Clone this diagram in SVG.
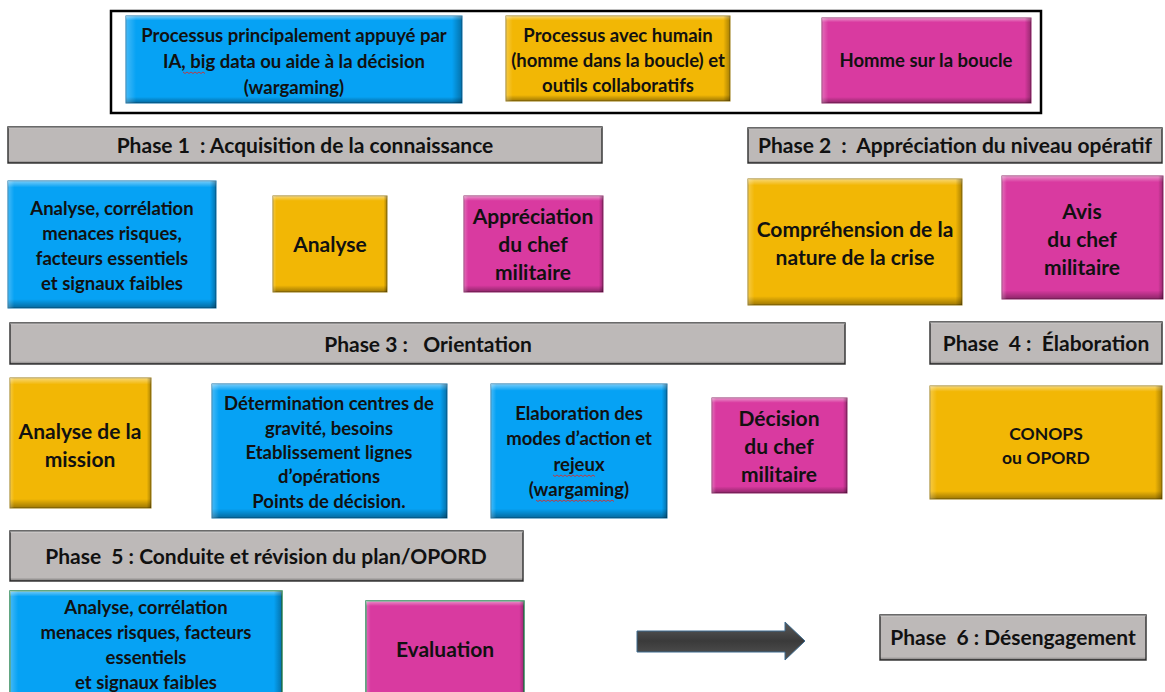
<svg xmlns="http://www.w3.org/2000/svg" width="1165" height="692" viewBox="0 0 1165 692" xml:space="preserve">
  <defs>
    <!-- bevel shading laid over every box -->
    <linearGradient id="bevelV" x1="0" y1="0" x2="0" y2="1">
      <stop offset="0" stop-color="#fff" stop-opacity="0.45"/>
      <stop offset="0.05" stop-color="#fff" stop-opacity="0"/>
      <stop offset="0.93" stop-color="#000" stop-opacity="0"/>
      <stop offset="1" stop-color="#000" stop-opacity="0.35"/>
    </linearGradient>
    <linearGradient id="bevelH" x1="0" y1="0" x2="1" y2="0">
      <stop offset="0" stop-color="#fff" stop-opacity="0.25"/>
      <stop offset="0.03" stop-color="#fff" stop-opacity="0"/>
      <stop offset="0.97" stop-color="#000" stop-opacity="0"/>
      <stop offset="1" stop-color="#000" stop-opacity="0.3"/>
    </linearGradient>
    <linearGradient id="arrowFill" x1="0" y1="0" x2="0" y2="1">
      <stop offset="0" stop-color="#5a5a5a"/>
      <stop offset="0.5" stop-color="#3a3a3a"/>
      <stop offset="1" stop-color="#555"/>
    </linearGradient>
    <style>
      .blue { fill: #06A2F4; stroke: #0a6fa8; stroke-width: 1; }
      .yellow { fill: #F2B705; stroke: #9a7a10; stroke-width: 1; }
      .pink { fill: #D93AA0; stroke: #8f2468; stroke-width: 1; }
      .green-edge { stroke: #2f8a5a; stroke-width: 1.5; }
      .bar { fill: #BDB9B8; stroke: #3a3a3a; stroke-width: 1.5; }
      .bv { fill: url(#bevelV); }
      .bh { fill: url(#bevelH); }
      text { font-family: "Lato", "Liberation Sans", sans-serif; font-weight: bold; fill: #111; text-anchor: middle; white-space: pre; }
      .t16 { font-size: 18.5px; }
      .t17 { font-size: 17.5px; }
      .t19 { font-size: 21px; }
      .bt { font-size: 21px; }
      .squig { fill: none; stroke: #d03030; stroke-width: 0.9; }
    </style>
  </defs>

  <rect width="1165" height="692" fill="#fff"/>

  <!-- legend -->
  <g id="legend">
    <rect x="111" y="11" width="930" height="102" fill="#fff" stroke="#000" stroke-width="2.5"/>
    <g id="legend-ai">
      <rect class="blue" x="126" y="16" width="336" height="87"/>
      <rect class="bv" x="126" y="16" width="336" height="87"/><rect class="bh" x="126" y="16" width="336" height="87"/>
      <text class="t16" x="294" y="42">Processus principalement appuyé par</text>
      <text class="t16" x="294" y="68">IA, big data ou aide à la décision</text>
      <text class="t16" x="294" y="94">(wargaming)</text>
      <path class="squig" d="M183 72 l2 1.5 l2 -1.5 l2 1.5 l2 -1.5 l2 1.5 l2 -1.5 l2 1.5 l2 -1.5 l2 1.5 l2 -1.5 l2 1.5"/>
    </g>
    <g id="legend-human-in">
      <rect class="yellow" x="506" y="16" width="224" height="85"/>
      <rect class="bv" x="506" y="16" width="224" height="85"/><rect class="bh" x="506" y="16" width="224" height="85"/>
      <text class="t16" x="618" y="42">Processus avec humain</text>
      <text class="t16" x="618" y="67">(homme dans la boucle) et</text>
      <text class="t16" x="618" y="92">outils collaboratifs</text>
    </g>
    <g id="legend-human-on">
      <rect class="pink" x="822" y="18" width="209" height="85"/>
      <rect class="bv" x="822" y="18" width="209" height="85"/><rect class="bh" x="822" y="18" width="209" height="85"/>
      <text class="t16" x="926" y="67">Homme sur la boucle</text>
    </g>
  </g>

  <!-- phase 1 -->
  <g id="phase1">
    <rect class="bar" x="8" y="127" width="594" height="36"/>
    <rect class="bv" x="8" y="127" width="594" height="36"/>
    <text class="bt" x="305" y="153">Phase 1  : Acquisition de la connaissance</text>
  </g>
  <g id="p1-analyse-correlation">
    <rect class="blue" x="8" y="181" width="208" height="127"/>
    <rect class="bv" x="8" y="181" width="208" height="127"/><rect class="bh" x="8" y="181" width="208" height="127"/>
    <text class="t16" x="112" y="215">Analyse, corrélation</text>
    <text class="t16" x="112" y="240">menaces risques,</text>
    <text class="t16" x="112" y="265">facteurs essentiels</text>
    <text class="t16" x="112" y="290">et signaux faibles</text>
  </g>
  <g id="p1-analyse">
    <rect class="yellow" x="273" y="196" width="114" height="96"/>
    <rect class="bv" x="273" y="196" width="114" height="96"/><rect class="bh" x="273" y="196" width="114" height="96"/>
    <text class="t19" x="330" y="252">Analyse</text>
  </g>
  <g id="p1-appreciation">
    <rect class="pink" x="464" y="196" width="139" height="96"/>
    <rect class="bv" x="464" y="196" width="139" height="96"/><rect class="bh" x="464" y="196" width="139" height="96"/>
    <text class="t19" x="533" y="224">Appréciation</text>
    <text class="t19" x="533" y="252">du chef</text>
    <text class="t19" x="533" y="280">militaire</text>
  </g>

  <!-- phase 2 -->
  <g id="phase2">
    <rect class="bar" x="748" y="128" width="414" height="35"/>
    <rect class="bv" x="748" y="128" width="414" height="35"/>
    <text class="bt" x="955" y="153">Phase 2  :  Appréciation du niveau opératif</text>
  </g>
  <g id="p2-comprehension">
    <rect class="yellow" x="748" y="179" width="214" height="126"/>
    <rect class="bv" x="748" y="179" width="214" height="126"/><rect class="bh" x="748" y="179" width="214" height="126"/>
    <text class="t19" x="855" y="237">Compréhension de la</text>
    <text class="t19" x="855" y="265">nature de la crise</text>
  </g>
  <g id="p2-avis">
    <rect class="pink" x="1002" y="176" width="161" height="123"/>
    <rect class="bv" x="1002" y="176" width="161" height="123"/><rect class="bh" x="1002" y="176" width="161" height="123"/>
    <text class="t19" x="1082" y="219">Avis</text>
    <text class="t19" x="1082" y="247">du chef</text>
    <text class="t19" x="1082" y="275">militaire</text>
  </g>

  <!-- phase 3 -->
  <g id="phase3">
    <rect class="bar" x="10" y="323" width="835" height="41"/>
    <rect class="bv" x="10" y="323" width="835" height="41"/>
    <text class="bt" x="428" y="352">Phase 3 :   Orientation</text>
  </g>
  <g id="p3-mission">
    <rect class="yellow" x="10" y="378" width="141" height="130"/>
    <rect class="bv" x="10" y="378" width="141" height="130"/><rect class="bh" x="10" y="378" width="141" height="130"/>
    <text class="t19" x="80" y="439">Analyse de la</text>
    <text class="t19" x="80" y="467">mission</text>
  </g>
  <g id="p3-determination">
    <rect class="blue" x="212" y="384" width="235" height="134"/>
    <rect class="bv" x="212" y="384" width="235" height="134"/><rect class="bh" x="212" y="384" width="235" height="134"/>
    <text class="t16" x="329" y="410">Détermination centres de</text>
    <text class="t16" x="329" y="435">gravité, besoins</text>
    <text class="t16" x="329" y="459">Etablissement lignes</text>
    <text class="t16" x="329" y="483">d’opérations</text>
    <text class="t16" x="329" y="508">Points de décision.</text>
  </g>
  <g id="p3-elaboration">
    <rect class="blue" x="491" y="384" width="176" height="134"/>
    <rect class="bv" x="491" y="384" width="176" height="134"/><rect class="bh" x="491" y="384" width="176" height="134"/>
    <text class="t16" x="579" y="420">Elaboration des</text>
    <text class="t16" x="579" y="445">modes d’action et</text>
    <text class="t16" x="579" y="471">rejeux</text>
    <text class="t16" x="579" y="496">(wargaming)</text>
    <path class="squig" d="M553 475 l2 1.5 l2 -1.5 l2 1.5 l2 -1.5 l2 1.5 l2 -1.5 l2 1.5 l2 -1.5 l2 1.5 l2 -1.5 l2 1.5 l2 -1.5 l2 1.5 l2 -1.5 l2 1.5 l2 -1.5 l2 1.5 l2 -1.5 l2 1.5 l2 -1.5 l2 1.5"/>
    <path class="squig" d="M536 500 l2 1.5 l2 -1.5 l2 1.5 l2 -1.5 l2 1.5 l2 -1.5 l2 1.5 l2 -1.5 l2 1.5 l2 -1.5 l2 1.5 l2 -1.5 l2 1.5 l2 -1.5 l2 1.5 l2 -1.5 l2 1.5 l2 -1.5 l2 1.5 l2 -1.5 l2 1.5 l2 -1.5 l2 1.5 l2 -1.5 l2 1.5 l2 -1.5 l2 1.5 l2 -1.5 l2 1.5 l2 -1.5 l2 1.5 l2 -1.5 l2 1.5 l2 -1.5 l2 1.5 l2 -1.5 l2 1.5 l2 -1.5 l2 1.5"/>
  </g>
  <g id="p3-decision">
    <rect class="pink" x="712" y="398" width="135" height="95"/>
    <rect class="bv" x="712" y="398" width="135" height="95"/><rect class="bh" x="712" y="398" width="135" height="95"/>
    <text class="t19" x="779" y="426">Décision</text>
    <text class="t19" x="779" y="454">du chef</text>
    <text class="t19" x="779" y="482">militaire</text>
  </g>

  <!-- phase 4 -->
  <g id="phase4">
    <rect class="bar" x="930" y="322" width="232" height="42"/>
    <rect class="bv" x="930" y="322" width="232" height="42"/>
    <text class="bt" x="1046" y="351">Phase  4 :  Élaboration</text>
  </g>
  <g id="p4-conops">
    <rect class="yellow" x="930" y="386" width="232" height="113"/>
    <rect class="bv" x="930" y="386" width="232" height="113"/><rect class="bh" x="930" y="386" width="232" height="113"/>
    <text class="t17" x="1046" y="440">CONOPS</text>
    <text class="t17" x="1046" y="464">ou OPORD</text>
  </g>

  <!-- phase 5 -->
  <g id="phase5">
    <rect class="bar" x="10" y="531" width="513" height="50"/>
    <rect class="bv" x="10" y="531" width="513" height="50"/>
    <text class="bt" x="266" y="564">Phase  5 : Conduite et révision du plan/OPORD</text>
  </g>
  <g id="p5-analyse-correlation">
    <rect class="blue green-edge" x="10" y="591" width="272" height="110"/>
    <rect class="bv" x="10" y="591" width="272" height="110"/><rect class="bh" x="10" y="591" width="272" height="110"/>
    <text class="t16" x="146" y="614">Analyse, corrélation</text>
    <text class="t16" x="146" y="639">menaces risques, facteurs</text>
    <text class="t16" x="146" y="664">essentiels</text>
    <text class="t16" x="146" y="689">et signaux faibles</text>
  </g>
  <g id="p5-evaluation">
    <rect class="pink green-edge" x="366" y="601" width="158" height="100"/>
    <rect class="bv" x="366" y="601" width="158" height="100"/><rect class="bh" x="366" y="601" width="158" height="100"/>
    <text class="t19" x="445" y="657">Evaluation</text>
  </g>

  <!-- phase 6 -->
  <g id="phase6">
    <rect class="bar" x="880" y="615" width="266" height="45"/>
    <rect class="bv" x="880" y="615" width="266" height="45"/>
    <text class="bt" x="1013" y="645">Phase  6 : Désengagement</text>
  </g>

  <!-- connectors -->
  <g id="connectors">
    <polygon points="637,631 785,631 785,622 805,641 785,660 785,652 637,652" fill="url(#arrowFill)" stroke="#3d6b8f" stroke-width="1"/>
  </g>
</svg>
